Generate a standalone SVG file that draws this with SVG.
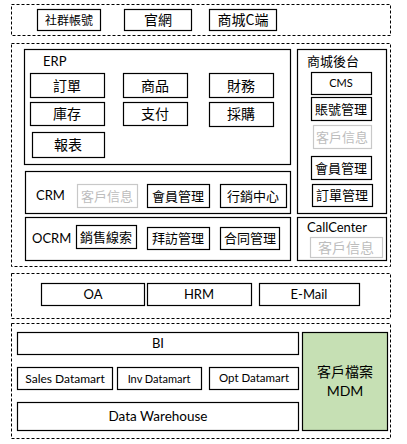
<svg xmlns="http://www.w3.org/2000/svg" width="407" height="444" viewBox="0 0 407 444">
<style>
.dash{fill:none;stroke:#000;stroke-width:1;stroke-dasharray:3,2}
.box{fill:#fff;stroke:#000;stroke-width:1.2}
.gbox{fill:#fff;stroke:#c8c8c8;stroke-width:1.2}
.frame{fill:none;stroke:#000;stroke-width:1.2}
.cjk{font-family:"Noto Sans CJK TC","Noto Sans CJK SC",sans-serif;font-size:13px;fill:#000;text-anchor:middle}
.lat{font-family:Lato,"Open Sans","Liberation Sans",sans-serif;font-size:13px;fill:#000;text-anchor:middle}
.gray{fill:#bdbdbd}
.lbl{text-anchor:start}
</style>
<rect width="407" height="444" fill="#fff"/>
<g id="layer-top">
<rect class="dash" x="11.5" y="4.5" width="379" height="31"/>
<g id="n-social"><rect class="box" x="37.5" y="9.5" width="63" height="21"/><text class="cjk" x="69" y="25" style="font-size:12px">社群帳號</text></g>
<g id="n-web"><rect class="box" x="124.5" y="9.5" width="67" height="21"/><text class="cjk" x="158" y="25" style="font-size:14px">官網</text></g>
<g id="n-mallc"><rect class="box" x="209.5" y="9.5" width="67" height="21"/><text class="cjk" x="243" y="25" style="font-size:14px">商城C端</text></g>
</g>
<g id="layer-biz">
<rect class="dash" x="11.5" y="43.5" width="379" height="223"/>
<g id="erp">
<rect class="frame" x="24.5" y="49.5" width="266" height="115"/>
<text class="lat lbl" x="43" y="66">ERP</text>
<g id="n-order"><rect class="box" x="30.5" y="73.5" width="74" height="24"/><text class="cjk" x="67" y="91" style="font-size:14px">訂單</text></g>
<g id="n-product"><rect class="box" x="123.5" y="73.5" width="64" height="24"/><text class="cjk" x="155" y="91" style="font-size:14px">商品</text></g>
<g id="n-finance"><rect class="box" x="209.5" y="73.5" width="64" height="24"/><text class="cjk" x="241" y="91" style="font-size:14px">財務</text></g>
<g id="n-stock"><rect class="box" x="30.5" y="102.5" width="74" height="23"/><text class="cjk" x="67" y="119" style="font-size:14px">庫存</text></g>
<g id="n-pay"><rect class="box" x="123.5" y="102.5" width="64" height="23"/><text class="cjk" x="155" y="119" style="font-size:14px">支付</text></g>
<g id="n-purchase"><rect class="box" x="209.5" y="102.5" width="64" height="24"/><text class="cjk" x="241" y="119" style="font-size:14px">採購</text></g>
<g id="n-report"><rect class="box" x="32.5" y="132.5" width="72" height="25"/><text class="cjk" x="68" y="150" style="font-size:14px">報表</text></g>
</g>
<g id="mallback">
<rect class="frame" x="297.5" y="49.5" width="89" height="164"/>
<text class="cjk lbl" x="307" y="66">商城後台</text>
<g id="n-cms"><rect class="box" x="311.5" y="72.5" width="60" height="22"/><text class="lat" x="341" y="87" style="font-size:11px">CMS</text></g>
<g id="n-account"><rect class="box" x="311.5" y="97.5" width="60" height="23"/><text class="cjk" x="341" y="114">賬號管理</text></g>
<g id="n-cust1"><rect class="gbox" x="313.5" y="125.5" width="58" height="23"/><text class="cjk gray" x="342" y="142">客戶信息</text></g>
<g id="n-member1"><rect class="box" x="311.5" y="156.5" width="60" height="23"/><text class="cjk" x="341" y="173">會員管理</text></g>
<g id="n-ordermgr"><rect class="box" x="312.5" y="184.5" width="60" height="22"/><text class="cjk" x="342" y="200">訂單管理</text></g>
</g>
<g id="crm">
<rect class="frame" x="25.5" y="171.5" width="265" height="42"/>
<text class="lat lbl" x="36" y="200">CRM</text>
<g id="n-cust2"><rect class="gbox" x="77.5" y="184.5" width="60" height="23"/><text class="cjk gray" x="107" y="201">客戶信息</text></g>
<g id="n-member2"><rect class="box" x="147.5" y="184.5" width="62" height="23"/><text class="cjk" x="178" y="201">會員管理</text></g>
<g id="n-marketing"><rect class="box" x="220.5" y="184.5" width="66" height="23"/><text class="cjk" x="253" y="201">行銷中心</text></g>
</g>
<g id="ocrm">
<rect class="frame" x="25.5" y="217.5" width="265" height="43"/>
<text class="lat lbl" x="32" y="243">OCRM</text>
<g id="n-leads"><rect class="box" x="76.5" y="225.5" width="60" height="23"/><text class="cjk" x="106" y="242">銷售線索</text></g>
<g id="n-visit"><rect class="box" x="147.5" y="227.5" width="62" height="22"/><text class="cjk" x="178" y="243">拜訪管理</text></g>
<g id="n-contract"><rect class="box" x="220.5" y="227.5" width="59" height="22"/><text class="cjk" x="250" y="243">合同管理</text></g>
</g>
<g id="callcenter">
<rect class="frame" x="297.5" y="217.5" width="89" height="43"/>
<text class="lat lbl" x="307" y="232">CallCenter</text>
<g id="n-cust3"><rect class="gbox" x="310.5" y="237.5" width="72" height="20"/><text class="cjk gray" x="346" y="253" style="font-size:14px">客戶信息</text></g>
</g>
</g>
<g id="layer-office">
<rect class="dash" x="11.5" y="273.5" width="379" height="45"/>
<g id="n-oa"><rect class="box" x="41.5" y="283.5" width="103" height="22"/><text class="lat" x="93" y="299">OA</text></g>
<g id="n-hrm"><rect class="box" x="147.5" y="283.5" width="104" height="22"/><text class="lat" x="199" y="299">HRM</text></g>
<g id="n-email"><rect class="box" x="259.5" y="283.5" width="100" height="22"/><text class="lat" x="309" y="299">E-Mail</text></g>
</g>
<g id="layer-data">
<rect class="dash" x="11.5" y="323.5" width="379" height="115"/>
<g id="n-bi"><rect class="box" x="17.5" y="332.5" width="281" height="22"/><text class="lat" x="158" y="348">BI</text></g>
<g id="n-sales"><rect class="box" x="17.5" y="367.5" width="95" height="22"/><text class="lat" x="65" y="383" style="font-size:12px">Sales Datamart</text></g>
<g id="n-inv"><rect class="box" x="117.5" y="367.5" width="84" height="22"/><text class="lat" x="159" y="383" style="font-size:11px">Inv Datamart</text></g>
<g id="n-opt"><rect class="box" x="209.5" y="367.5" width="89" height="22"/><text class="lat" x="254" y="382" style="font-size:11.5px">Opt Datamart</text></g>
<g id="n-dw"><rect class="box" x="17.5" y="402.5" width="281" height="28"/><text class="lat" x="158" y="421" style="font-size:13.5px">Data Warehouse</text></g>
<g id="n-mdm"><rect x="302.5" y="332.5" width="85" height="98" fill="#c6e0b4" stroke="#000" stroke-width="1.2"/><text class="cjk" x="345" y="377" style="font-size:14px">客戶檔案</text><text class="lat" x="345" y="396" style="font-size:14px">MDM</text></g>
</g>
</svg>
